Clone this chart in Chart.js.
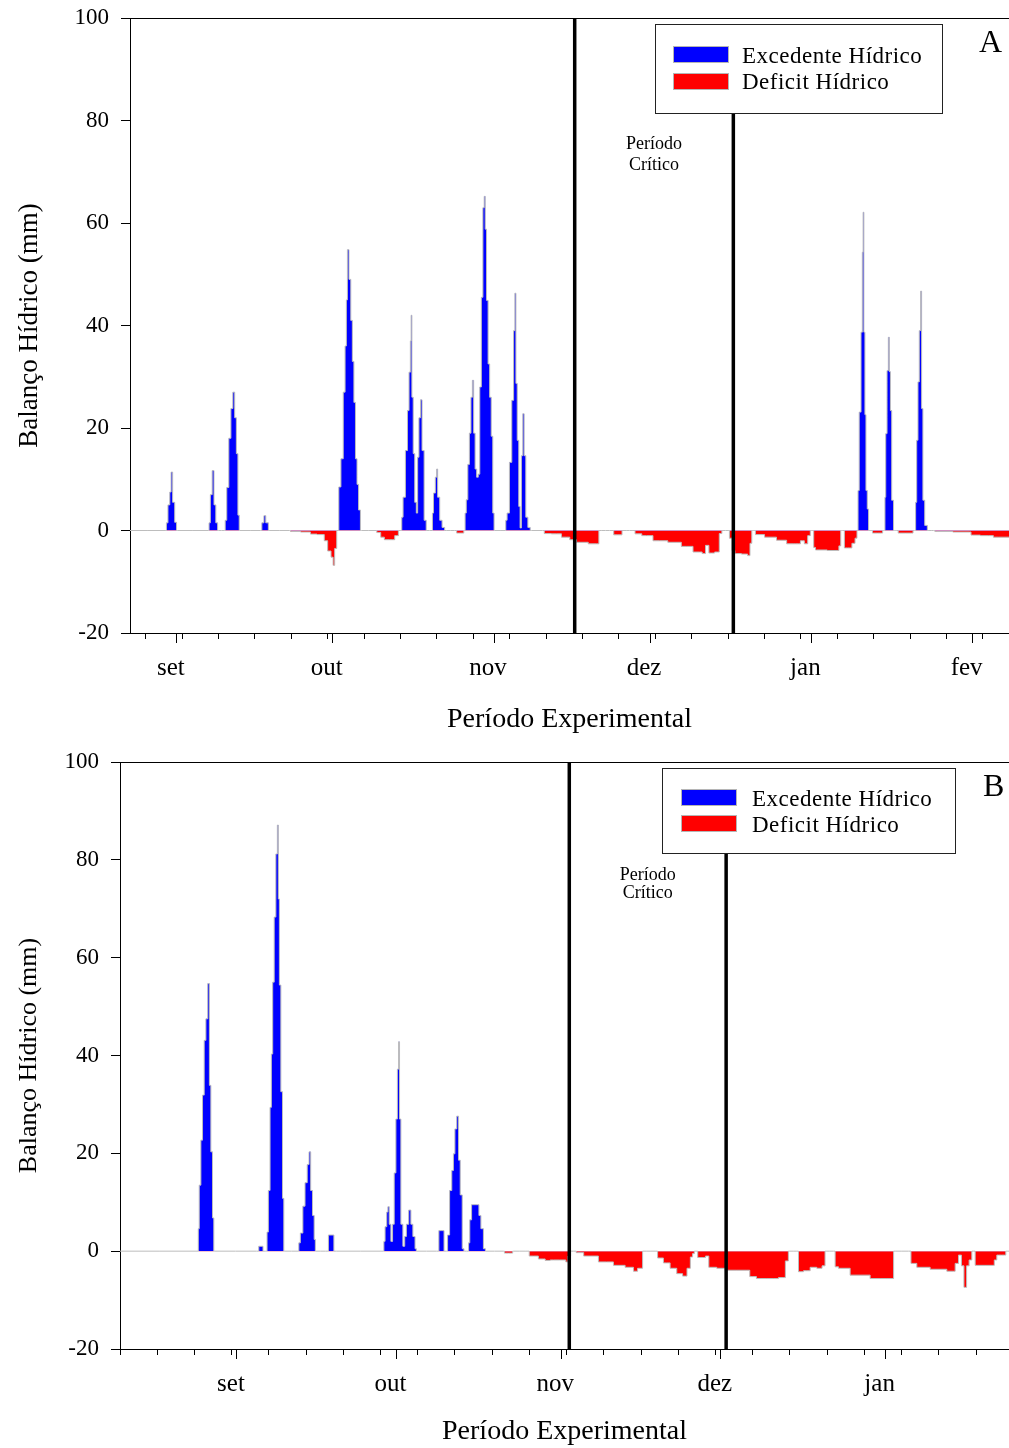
<!DOCTYPE html>
<html lang="pt">
<head>
<meta charset="utf-8">
<title>Balanço hídrico</title>
<script src="https://cdn.jsdelivr.net/npm/chart.js@4.4.1/dist/chart.umd.min.js"></script>
<style>
  body { margin: 0; background: #fff; font-family: "Liberation Serif", "Times New Roman", serif; color: #000; }
  .painel { position: relative; width: 1009px; }
  #painelA { height: 740px; }
  #painelB { height: 708px; }
  canvas { position: absolute; left: 0; top: 0; }
  .legenda { position: absolute; background: #fff; border: 1px solid #222; }
  .cor { position: absolute; width: 56px; height: 17px; border: 1px solid #b5b5b5; box-sizing: border-box; }
  .rotulo { position: absolute; font-size: 23px; line-height: 23px; letter-spacing: 0.5px; white-space: nowrap; }
  .letra { position: absolute; font-size: 32px; line-height: 32px; }
</style>
</head>
<body>

<div class="painel" id="painelA">
  <canvas id="graficoA" width="1009" height="740"></canvas>
  <div class="legenda" style="left:655px; top:24px; width:286px; height:88px;">
    <div class="cor" style="left:17px; top:21px; background:#0000ff;"></div>
    <div class="rotulo" style="left:86px; top:19px;">Excedente Hídrico</div>
    <div class="cor" style="left:17px; top:48px; background:#ff0000;"></div>
    <div class="rotulo" style="left:86px; top:45px;">Deficit Hídrico</div>
  </div>
  <div class="letra" style="left:979px; top:25px;">A</div>
</div>

<div class="painel" id="painelB">
  <canvas id="graficoB" width="1009" height="708"></canvas>
  <div class="legenda" style="left:662px; top:28px; width:292px; height:84px;">
    <div class="cor" style="left:18px; top:20px; background:#0000ff;"></div>
    <div class="rotulo" style="left:89px; top:18px;">Excedente Hídrico</div>
    <div class="cor" style="left:18px; top:46px; background:#ff0000;"></div>
    <div class="rotulo" style="left:89px; top:44px;">Deficit Hídrico</div>
  </div>
  <div class="letra" style="left:983px; top:29px;">B</div>
</div>

<script>
// dias contados a partir de 1 de setembro
const mesesInicio = [0, 30, 61, 91, 122, 153];
const mesesNome = ['set', 'out', 'nov', 'dez', 'jan', 'fev'];

// Painel A - balanço hídrico diário (mm)
const diasA = [
  -9, -2.1, -1.9, -1.5, -1.2, -1.0, -0.6, -0.2, 0.1,
  6.1, 6.3, 6.6, 7.0, 7.3, 7.7, 8.0,
  9.2, 9.4, 9.8, 10.2, 10.6, 10.95, 11.3, 11.6, 11.9, 12.1,
  16.1, 16.6, 16.9, 17.3, 17.9,
  21.7, 22.0, 25.6, 25.8, 28.1, 28.6, 29.4, 29.9, 30.2, 30.5, 31.0,
  31.3, 31.8, 32.2, 32.5, 32.7, 32.9, 33.3, 33.6, 33.9, 34.2, 34.5, 34.8, 35.1, 35.5,
  38.1, 38.8, 39.6, 40.2, 41.5, 42.3, 42.9,
  43.2, 43.3, 43.7, 44.2, 44.5, 44.8, 45.0, 45.1, 45.3, 45.6, 45.9, 46.2, 46.4, 46.7, 47.0, 47.3, 47.8, 48.1,
  49.1, 49.2, 49.5, 49.9, 50.0, 50.3, 50.8, 51.2, 51.8,
  53.4, 54.2, 55.0, 55.35,
  55.5, 55.8, 56.1, 56.4, 56.7, 56.95, 57.2, 57.5, 57.8, 58.1, 58.4, 58.7, 59.0, 59.2, 59.4, 59.7, 60.0, 60.3, 60.6, 60.9, 61.1,
  63.2, 63.3, 63.7, 64.2, 64.6, 64.9, 65.1, 65.3, 65.6, 65.9, 66.1, 66.4, 66.65, 66.9, 67.3, 67.7, 68.2,
  70.3, 71.0, 73.0, 74.9, 76.2, 77.5, 80.7, 81.6,
  83.2, 84.8, 86.4,
  87.7, 88.5, 90.3, 92.8, 96.0, 98.0, 100.5, 101.5, 101.8, 102.8, 104.0, 104.6, 105.0,
  106.0, 106.5, 107.0, 107.6, 109.5, 110.0, 110.4, 110.7,
  111.1, 111.4, 114.6, 116.0, 118.5, 119.5, 120.3, 121.0, 121.6, 122.0,
  122.3, 122.6, 123.0, 127.1, 127.5, 127.8,
  128.1, 128.6, 129.4, 130.2, 130.6, 130.95,
  131.0, 131.4, 131.7, 131.9, 132.0, 132.2, 132.4, 132.6, 132.9, 133.1,
  133.5, 134.0, 135.5, 135.9,
  136.1, 136.2, 136.4, 136.7, 136.9, 137.1, 137.3, 137.6, 138.0,
  138.4, 139.0, 141.3, 141.8,
  142.0, 142.1, 142.4, 142.6, 142.9, 143.1, 143.3, 143.6, 144.0, 144.6,
  145.5, 146.0, 152.4, 153.0, 156.0, 158.0, 160.0
];
const saldoA = [
  0, 0, 1.5, 5, 7.5, 11.4, 5.5, 1.6, 0,
  0, 1.5, 7, 11.7, 5, 1.5, 0,
  0, 2, 8.4, 18, 23.8, 27, 22, 15, 3, 0,
  0, 1.5, 2.9, 1.5, 0,
  0, -0.2, -0.3, -0.7, -0.8, -2, -4, -5.2, -6.8, -3.5, 0,
  8.5, 14, 27, 36, 45, 54.8, 49, 41, 33, 25, 14, 9, 4, 0,
  0, -0.4, -1.3, -1.8, -1.8, -1.0, 0,
  0, 2.6, 6.5, 15.6, 23.4, 30.9, 37, 42, 26, 15, 5.5, 3.4, 14.3, 22, 25.5, 15.6, 2, 0,
  0, 3.4, 7.3, 10.4, 12, 6.5, 2, 0.6, 0,
  0, -0.5, -0.5, 0,
  3.4, 6, 12.9, 19, 26, 29.3, 19, 12, 10.4, 11, 28, 45.5, 63, 65.2, 58.8, 44.9, 32.5, 26, 18.4, 3.4, 0,
  0, 2, 3.4, 13.3, 25.4, 39, 46.3, 28.7, 17.6, 4.7, 0.5, 14.6, 22.8, 14.6, 2.6, 0.6, 0,
  0, -0.6, -0.65, -1.3, -1.8, -2.3, -2.6, 0,
  0, -0.85, 0,
  0, -0.65, -1.0, -2.0, -2.3, -3.1, -4.2, -4.5, -2.9, -4.4, -4.2, -0.6, 0,
  0, -1.5, -3.9, -4.5, -4.6, -4.9, -2.5, 0,
  0, -0.8, -1.3, -1.9, -2.6, -2.6, -2.0, -2.6, -1.0, 0,
  0, -3.3, -3.8, -3.9, -3.0, 0,
  0, -3.4, -3.4, -2.5, -1.5, 0,
  7.8, 23.1, 38.7, 54.3, 62.1, 38.7, 22.6, 7.8, 4.2, 0,
  0, -0.5, -0.5, 0,
  0, 6.5, 18.9, 31.2, 37.7, 31, 23.4, 5.9, 0,
  0, -0.5, -0.5, 0,
  0, 5.5, 17.6, 29, 39, 46.7, 23.8, 5.9, 1, 0,
  0, -0.2, -0.3, -0.9, -1.0, -1.3, -1.3
];
const criticoA = [76.5, 107];

// Painel B
const diasB = [
  -22, -7.3, -7.25, -6.95, -6.63, -6.33, -6.0, -5.69, -5.3, -5.07, -4.75, -4.45, -4.26,
  3.7, 4.5, 5.3,
  5.6, 5.71, 6.09, 6.35, 6.59, 6.84, 7.16, 7.47, 7.72, 7.85, 8.1, 8.41, 8.72, 8.9,
  11.6, 11.67, 12.17, 12.61, 12.99, 13.43, 13.68, 14.05, 14.36, 14.68, 14.8,
  16.7, 17.7, 18.76,
  27.6, 27.66, 28.04, 28.29, 28.48, 28.79, 29.11, 29.41, 29.73, 30.05, 30.29, 30.48, 30.67, 30.99, 31.42, 31.67, 32.05, 32.55, 32.87, 33.3, 33.68, 33.8,
  37.5, 38.44, 39.45, 39.77, 40.21, 40.59, 40.83, 41.15, 41.52, 41.83, 42.15, 42.58, 42.8,
  43.52, 43.6, 43.97, 44.28, 45.29, 45.72, 46.04, 46.66, 46.8,
  50.1, 50.5, 51.7, 52.0,
  54.18, 55.75, 57.63, 58.3, 59.5, 61.7, 62.0, 62.5, 63.0,
  63.6, 64.0, 66.41, 69.55, 72.06, 73.94, 75.2, 75.5, 77.08,
  78.64, 79.58, 80.84, 82.08, 83.34, 84.28, 85.0, 85.54, 85.84, 86.2,
  86.5, 86.8, 87.72, 88.5, 88.98, 91.49, 92.13, 95.89, 97.0, 98.39, 100.9, 102.78, 103.5, 103.91,
  105.3, 105.92, 107.18, 108.42, 109.68, 110.4, 110.81,
  112.18, 112.82, 113.44, 117.2, 120.96, 123.2, 123.79,
  126.29, 127.23, 128.49, 132.25, 134.76, 135.39, 136.01, 136.5, 136.95, 137.5, 137.9, 138.52, 139.15, 142.27, 142.6, 143.21, 144.4, 144.8, 145.2
];
const saldoB = [
  0, 0, 4.6, 13.5, 22.7, 31.9, 43.1, 47.5, 54.7, 33.9, 20.3, 6.8, 0,
  0, 1.0, 0,
  0, 3.9, 12.4, 29.4, 40.3, 55, 68.3, 81.2, 87.1, 72, 54.4, 32.6, 10.8, 0,
  0, 1.7, 3.7, 9.2, 14, 17.7, 20.3, 12.4, 7.3, 2.4, 0,
  0, 3.3, 0,
  0, 2, 5, 8, 9.1, 5.5, 2, 5.5, 16, 27, 37.2, 42.8, 27, 5.5, 1, 3.0, 5.5, 8.4, 5.5, 3, 0.5, 0,
  0, 4.2, 0, 3.3, 12.4, 16.5, 19.9, 25, 27.6, 18.6, 11.5, 0.5, 0,
  0, 1.7, 6.4, 9.5, 9.5, 7.3, 4.6, 0.5, 0,
  0, -0.4, -0.4, 0,
  0, -1.0, -1.6, -1.9, -1.8, -1.8, -2.2, -1.0, 0,
  0, -0.3, -1.0, -2.2, -2.9, -3.3, -4.1, -3.5, 0,
  0, -1.4, -2.4, -3.5, -4.6, -5.1, -3.5, -1.2, -0.5, 0,
  0, -1.3, -1.3, -1.0, -3.3, -3.5, -3.9, -3.9, -5.2, -5.6, -5.6, -5.4, -2, 0,
  0, -4.2, -4.0, -3.3, -3.5, -3.0, 0,
  0, -3.2, -3.5, -4.9, -5.6, -5.6, 0,
  0, -2.5, -3.3, -3.7, -4.1, -2.5, -0.8, -3, -7.4, -3, -1.8, 0, -2.9, -2.9, -1.8, -0.8, -0.8, 0, 0
];
const criticoB = [62.5, 92];

const fonte = '"Liberation Serif", "Times New Roman", serif';

// texto "Período Crítico" entre as duas linhas verticais
const textoCritico = {
  id: 'textoCritico',
  afterDatasetsDraw(chart, args, opts) {
    const {ctx, scales: {x, y}} = chart;
    const meio = x.getPixelForValue((opts.inicio + opts.fim) / 2);
    ctx.save();
    ctx.font = opts.tamanho + 'px ' + fonte;
    ctx.fillStyle = '#000';
    ctx.textAlign = 'center';
    ctx.textBaseline = 'middle';
    ctx.fillText('Período', meio, y.getPixelForValue(opts.y1));
    ctx.fillText('Crítico', meio, y.getPixelForValue(opts.y2));
    ctx.restore();
  }
};

function desenha(id, c) {
  const pontos = c.dias.map((d, i) => ({x: d, y: c.saldo[i]}));

  // a segunda linha termina sob a caixa da legenda
  const linhas = c.critico.map((d, i) => ({
    data: [{x: d, y: -20}, {x: d, y: i === 0 ? 100 : 98.5}],
    borderColor: '#000',
    borderWidth: 3.5,
    pointRadius: 0,
    fill: false
  }));

  // marcas semanais + inicio de cada mes
  const marcas = [];
  for (let d = c.semana; d <= c.max; d += 7) marcas.push(d);
  mesesInicio.forEach(d => { if (d >= c.min && d <= c.max) marcas.push(d); });
  marcas.sort((a, b) => a - b);

  return new Chart(document.getElementById(id), {
    type: 'line',
    data: {
      datasets: [...linhas, {
        data: pontos,
        borderColor: '#bdbdbd',
        borderWidth: 1,
        pointRadius: 0,
        stepped: 'middle',
        fill: {target: 'origin', above: '#0000ff', below: '#ff0000'}
      }]
    },
    options: {
      responsive: false,
      animation: false,
      devicePixelRatio: 1,
      layout: {padding: {top: c.topo, left: 0, right: 0, bottom: 0}},
      plugins: {
        legend: {display: false},
        tooltip: {enabled: false},
        textoCritico: {inicio: c.critico[0], fim: c.critico[1], y1: c.textoY[0], y2: c.textoY[1], tamanho: 18}
      },
      scales: {
        x: {
          type: 'linear',
          min: c.min,
          max: c.max,
          afterBuildTicks: s => { s.ticks = marcas.map(v => ({value: v})); },
          afterFit: s => { s.height = c.baseX; s.paddingLeft = 0; s.paddingRight = 0; },
          grid: {
            drawOnChartArea: false,
            tickLength: 10,
            tickColor: '#000',
            tickBorderDash: ctx => mesesInicio.includes(ctx.tick.value) ? [] : [5, 40]
          },
          border: {color: '#000', width: 1},
          ticks: {
            autoSkip: false,
            maxRotation: 0,
            padding: 10,
            labelOffset: -6,
            color: '#000',
            font: {family: fonte, size: 25},
            callback: v => {
              const k = mesesInicio.indexOf(v);
              return k >= 0 ? mesesNome[k] : '';
            }
          },
          title: {
            display: true,
            text: 'Período Experimental',
            color: '#000',
            font: {family: fonte, size: 28},
            padding: {top: 0, bottom: c.tituloX}
          }
        },
        topo: {
          type: 'linear',
          position: 'top',
          afterFit: s => { s.height = 0; s.paddingLeft = 0; s.paddingRight = 0; },
          grid: {drawOnChartArea: false, drawTicks: false},
          ticks: {display: false},
          border: {color: '#000', width: 1}
        },
        y: {
          min: -20,
          max: 100,
          afterFit: s => { s.width = c.largY; s.paddingTop = 0; s.paddingBottom = 0; },
          grid: {drawOnChartArea: false, tickLength: 9, tickColor: '#000'},
          border: {color: '#000', width: 1},
          ticks: {stepSize: 20, padding: 12, color: '#000', font: {family: fonte, size: 23}},
          title: {
            display: true,
            text: 'Balanço Hídrico (mm)',
            color: '#000',
            font: {family: fonte, size: c.tituloY},
            padding: {top: 14, bottom: 0}
          }
        }
      }
    },
    plugins: [textoCritico]
  });
}

desenha('graficoA', {
  dias: diasA, saldo: saldoA, critico: criticoA,
  min: -9, max: 160, semana: -6,
  topo: 18, baseX: 107, largY: 130, tituloX: 4, tituloY: 27,
  textoY: [75.3, 71.2]
});

desenha('graficoB', {
  dias: diasB, saldo: saldoB, critico: criticoB,
  min: -22, max: 145.2, semana: -22,
  topo: 22, baseX: 99, largY: 120, tituloX: 0, tituloY: 26,
  textoY: [76.9, 73.2]
});
</script>
</body>
</html>
